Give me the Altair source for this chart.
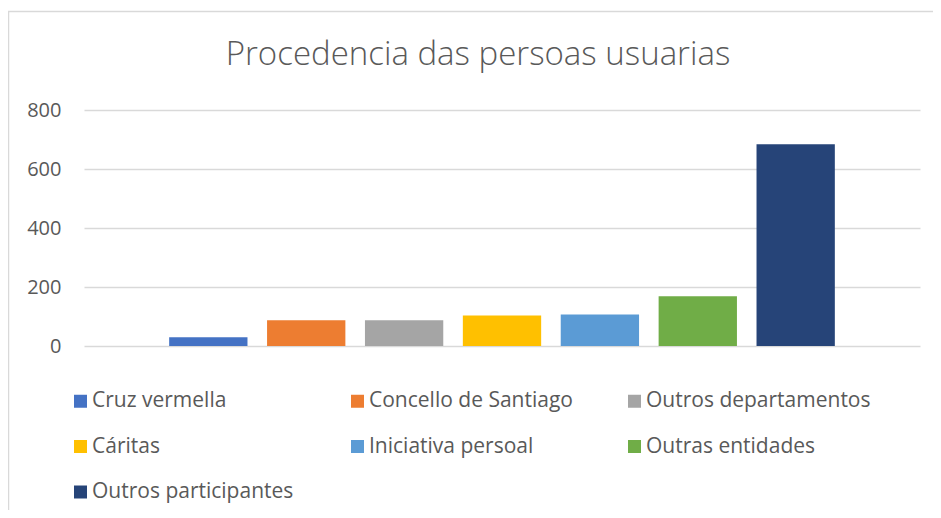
import altair as alt
import pandas as pd

categories = ["Cruz vermella", "Concello de Santiago", "Outros departamentos",
              "Cáritas", "Iniciativa persoal", "Outras entidades", "Outros participantes"]
values = [30, 87, 87, 103, 107, 169, 684]
colors = ["#4472C4", "#ED7D31", "#A5A5A5", "#FFC000", "#5B9BD5", "#70AD47", "#264478"]
y_ticks = [0, 200, 400, 600, 800]
title_text = "Procedencia das persoas usuarias"

df = pd.DataFrame({"cat": categories, "val": values})

FONT = "Open Sans"
GRAY = "#595959"

border = alt.Chart(pd.DataFrame({"a": [0]})).mark_rect(
    fill="transparent", stroke="#D9D9D9", strokeWidth=1.5
).encode(
    x=alt.value(-75.5), y=alt.value(-98.5), x2=alt.value(1500), y2=alt.value(1500)
)

bars = alt.Chart(df).mark_bar().encode(
    x=alt.X("cat:N", sort=categories, axis=None,
            scale=alt.Scale(paddingInner=0.2, paddingOuter=0.87)),
    y=alt.Y("val:Q", scale=alt.Scale(domain=[0, 800], nice=False),
            axis=alt.Axis(values=y_ticks, title=None, ticks=False, tickSize=0,
                          domain=False, labelFont=FONT, labelFontSize=20,
                          labelColor=GRAY, labelPadding=23,
                          gridColor="#D9D9D9", gridWidth=1.3)),
    color=alt.Color("cat:N", sort=categories,
                    scale=alt.Scale(domain=categories, range=colors),
                    legend=alt.Legend(title=None, orient="none", legendX=-14, legendY=280.5,
                                      direction="horizontal",
                                      columns=3, gridAlign="all", columnPadding=30,
                                      rowPadding=23.5, padding=0,
                                      symbolType="square", symbolSize=169,
                                      symbolStrokeWidth=0, labelOffset=1,
                                      labelFont=FONT, labelFontSize=21,
                                      labelColor=GRAY, labelLimit=400)),
)

chart = alt.layer(border, bars).properties(
    width=836, height=236,
    padding={"left": 76, "top": 102, "right": 13, "bottom": 164},
    autosize=alt.AutoSizeParams(type="none"),
    title=alt.TitleParams(title_text, font=FONT, fontSize=33, fontWeight=300,
                          color=GRAY, anchor="middle", frame="group",
                          baseline="alphabetic", offset=0, dy=87, dx=-24),
).configure_view(stroke=None)

chart.save("out.html", embed_options={"renderer": "svg", "actions": False})
